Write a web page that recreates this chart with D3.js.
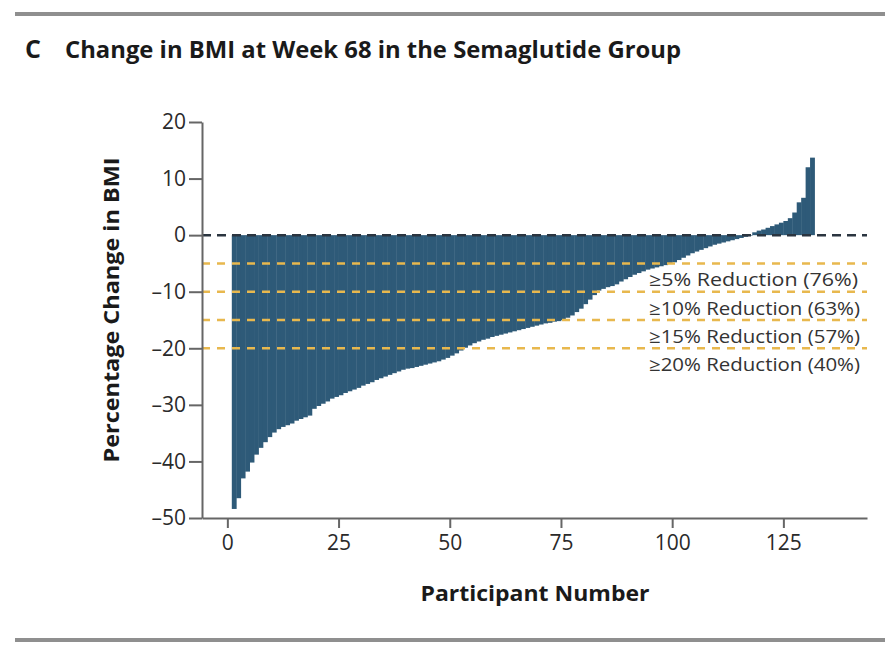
<!DOCTYPE html>
<html>
<head>
<meta charset="utf-8">
<script src="https://cdn.jsdelivr.net/npm/d3@7"></script>
<style>
  body { margin:0; background:#fff; }
  svg { display:block; font-family:"Open Sans", "Noto Sans", sans-serif; }
  .axis path, .axis line { stroke:#666; stroke-width:2; }
  .axis text { fill:#2a2a2a; font-size:21px; font-family:"Open Sans", "Noto Sans", sans-serif; }
</style>
</head>
<body>
<svg></svg>
<script>
// percentage change in BMI per participant, sorted (participant 1..131)
var bmiChange = [
  -48.4, -46.5, -43.0, -41.8, -40.2, -38.8, -37.6, -36.6, -35.7, -34.9,
  -34.3, -33.9, -33.6, -33.3, -32.8, -32.5, -32.2, -31.9, -30.7, -30.2,
  -29.8, -29.4, -28.9, -28.6, -28.3, -27.9, -27.6, -27.3, -27.0, -26.6,
  -26.3, -26.0, -25.6, -25.3, -25.0, -24.7, -24.4, -24.1, -23.8, -23.6,
  -23.5, -23.3, -23.1, -22.9, -22.7, -22.5, -22.3, -22.0, -21.7, -21.3,
  -20.9, -20.4, -19.9, -19.5, -19.1, -18.8, -18.5, -18.3, -18.0, -17.8,
  -17.6, -17.4, -17.2, -17.0, -16.8, -16.6, -16.4, -16.2, -16.0, -15.8,
  -15.6, -15.5, -15.3, -15.2, -15.0, -14.6, -14.2, -13.6, -13.0, -12.2,
  -11.4, -10.6, -9.8, -9.5, -9.2, -9.0, -8.7, -8.2, -7.8, -7.4,
  -7.0, -6.7, -6.4, -6.1, -5.9, -5.7, -5.5, -5.3, -5.1, -4.8,
  -4.4, -4.0, -3.6, -3.2, -2.9, -2.6, -2.3, -2.0, -1.7, -1.5,
  -1.3, -1.1, -0.9, -0.7, -0.5, -0.3, -0.1, 0.5, 0.8, 1.0,
  1.3, 1.6, 1.9, 2.2, 2.5, 3.0, 4.0, 5.8, 6.6, 12.0,
  13.7
];

var xTicks = [0, 25, 50, 75, 100, 125];
var yTicks = [20, 10, 0, -10, -20, -30, -40, -50];
var thresholds = [-5, -10, -15, -20];
var thresholdLabels = [
  "\u22655% Reduction (76%)",
  "\u226510% Reduction (63%)",
  "\u226515% Reduction (57%)",
  "\u226520% Reduction (40%)"
];

var screen = { width:885, height:649 };

var svg = d3.select("svg")
            .attr("width", screen.width)
            .attr("height", screen.height);

var plot = { left:202, right:867, top:122, bottom:518 };

var xScale = d3.scaleLinear()
               .domain([-5.7, 143.8])
               .range([plot.left, plot.right]);
var yScale = d3.scaleLinear()
               .domain([-50, 20])
               .range([plot.bottom, plot.top]);

var barColor = "#2e5a78";
var goldColor = "#e8b84e";

// frame rules
svg.append("rect")
   .attr("x", 15).attr("y", 12)
   .attr("width", screen.width - 15).attr("height", 4)
   .attr("fill", "#8f8f8f");
svg.append("rect")
   .attr("x", 15).attr("y", 638)
   .attr("width", screen.width - 15).attr("height", 4)
   .attr("fill", "#8f8f8f");

// title
svg.append("text")
   .attr("x", 25).attr("y", 58)
   .attr("font-size", 25).attr("font-weight", 700).attr("fill", "#1a1a1a")
   .text("C");
svg.append("text")
   .attr("x", 65).attr("y", 58)
   .attr("font-size", 24).attr("font-weight", 700).attr("fill", "#1a1a1a")
   .attr("textLength", 616).attr("lengthAdjust", "spacingAndGlyphs")
   .text("Change in BMI at Week 68 in the Semaglutide Group");

// bars
svg.append("g")
   .classed("bars", true)
   .selectAll("rect")
   .data(bmiChange)
   .enter()
   .append("rect")
   .attr("x", function(d, i) { return xScale(i + 1); })
   .attr("width", function(d, i) { return xScale(i + 2) - xScale(i + 1) + 0.4; })
   .attr("y", function(d) { return yScale(Math.max(0, d)); })
   .attr("height", function(d) { return Math.abs(yScale(d) - yScale(0)); })
   .attr("fill", barColor);

// threshold lines
svg.append("g")
   .classed("thresholds", true)
   .selectAll("line")
   .data(thresholds)
   .enter()
   .append("line")
   .attr("x1", plot.left).attr("x2", plot.right)
   .attr("y1", function(d) { return yScale(d); })
   .attr("y2", function(d) { return yScale(d); })
   .attr("stroke", goldColor)
   .attr("stroke-width", 2.5)
   .attr("stroke-dasharray", "8,7");

// zero line
svg.append("line")
   .attr("x1", plot.left).attr("x2", plot.right)
   .attr("y1", yScale(0)).attr("y2", yScale(0))
   .attr("stroke", "#2b3540")
   .attr("stroke-width", 2.5)
   .attr("stroke-dasharray", "9,6");

// threshold labels
svg.append("g")
   .classed("labels", true)
   .selectAll("text")
   .data(thresholds)
   .enter()
   .append("text")
   .attr("x", 649)
   .attr("y", function(d) { return yScale(d) + 16; })
   .attr("dominant-baseline", "central")
   .attr("font-size", 18)
   .attr("fill", "#333")
   .attr("textLength", function(d, i) { return i == 0 ? 209 : 211; })
   .attr("lengthAdjust", "spacingAndGlyphs")
   .text(function(d, i) { return thresholdLabels[i]; });

// axes
var fmt = function(d) { return d < 0 ? "\u2013" + Math.abs(d) : d; };

svg.append("g").classed("axis", true)
   .attr("transform", "translate(" + plot.left + ",0)")
   .call(d3.axisLeft(yScale).tickValues(yTicks).tickFormat(fmt)
           .tickSize(13).tickSizeOuter(0).tickPadding(3));

svg.append("g").classed("axis", true)
   .attr("transform", "translate(0," + plot.bottom + ")")
   .call(d3.axisBottom(xScale).tickValues(xTicks)
           .tickSize(10).tickSizeOuter(0).tickPadding(7));

// axis titles
svg.append("text")
   .attr("transform", "translate(110," + 310 + ") rotate(-90)")
   .attr("text-anchor", "middle")
   .attr("dominant-baseline", "central")
   .attr("font-size", 22).attr("font-weight", 700).attr("fill", "#1a1a1a")
   .attr("textLength", 305).attr("lengthAdjust", "spacingAndGlyphs")
   .text("Percentage Change in BMI");

svg.append("text")
   .attr("x", 535).attr("y", 592)
   .attr("text-anchor", "middle")
   .attr("dominant-baseline", "central")
   .attr("font-size", 22).attr("font-weight", 700).attr("fill", "#1a1a1a")
   .attr("textLength", 229).attr("lengthAdjust", "spacingAndGlyphs")
   .text("Participant Number");
</script>
</body>
</html>
